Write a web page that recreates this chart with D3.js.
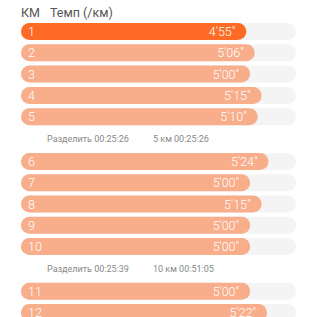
<!DOCTYPE html>
<html>
<head>
<meta charset="utf-8">
<script src="https://cdn.jsdelivr.net/npm/d3@7/dist/d3.min.js"></script>
<style>
html,body{margin:0;padding:0;background:#fff;}
svg{display:block;font-family:Roboto,"Noto Sans",sans-serif;}
</style>
</head>
<body>
<svg id="chart" width="317" height="317"></svg>
<script>
const kms = ["1","2","3","4","5","6","7","8","9","10","11","12"];
const paceSeconds = [295,306,300,315,310,324,300,315,300,300,300,322];
const paceLabels = ["4'55\"","5'06\"","5'00\"","5'15\"","5'10\"","5'24\"","5'00\"","5'15\"","5'00\"","5'00\"","5'00\"","5'22\""];
const splitAfter = [5,10];
const splitLabels = ["Разделить 00:25:26","Разделить 00:25:39"];
const splitTotals = ["5 км 00:25:26","10 км 00:51:05"];
const headers = ["КМ","Темп (/км)"];

const svg = d3.select("#chart");
const x = d3.scaleLinear().domain([0,360]).range([21,296]);
const top0 = 23, pitch = 21.3, splitExtra = 23.4, barH = 17;
const rowTop = i => top0 + i*pitch + splitAfter.filter(s => s <= i).length*splitExtra;

svg.selectAll("text.hdr").data(headers).join("text")
  .attr("class","hdr")
  .attr("x",(d,i)=> i===0 ? 21 : 50)
  .attr("y",17)
  .attr("font-size",12.5)
  .attr("fill","#555")
  .text(d=>d);

const rows = svg.selectAll("g.row").data(kms).join("g")
  .attr("class","row")
  .attr("transform",(d,i)=>`translate(0,${rowTop(i)})`);

rows.append("rect")
  .attr("x",x(0)).attr("y",0)
  .attr("width",x(360)-x(0)).attr("height",barH)
  .attr("rx",barH/2)
  .attr("fill","#f4f4f4");

rows.append("rect")
  .attr("x",x(0)).attr("y",0)
  .attr("width",(d,i)=>x(paceSeconds[i])-x(0)).attr("height",barH)
  .attr("rx",barH/2)
  .attr("fill",(d,i)=> i===0 ? "#ff6a24" : "#f8ad8b");

rows.append("text")
  .attr("x",x(0)+7).attr("y",barH/2+4.5)
  .attr("font-size",12.5).attr("font-weight",300)
  .attr("fill","#fff")
  .text(d=>d);

rows.append("text")
  .attr("x",(d,i)=>x(paceSeconds[i])-11).attr("y",barH/2+4.5)
  .attr("text-anchor","end")
  .attr("font-size",12.5).attr("font-weight",300)
  .attr("fill","#fff")
  .text((d,i)=>paceLabels[i]);

const splits = svg.selectAll("g.split").data(splitAfter).join("g")
  .attr("class","split")
  .attr("transform",d=>`translate(0,${rowTop(d-1)+barH+(pitch-barH+splitExtra)/2})`);

splits.append("text")
  .attr("x",47).attr("y",3.2)
  .attr("font-size",9).attr("fill","#888")
  .text((d,i)=>splitLabels[i]);

splits.append("text")
  .attr("x",153).attr("y",3.2)
  .attr("font-size",9).attr("fill","#888")
  .text((d,i)=>splitTotals[i]);
</script>
</body>
</html>
